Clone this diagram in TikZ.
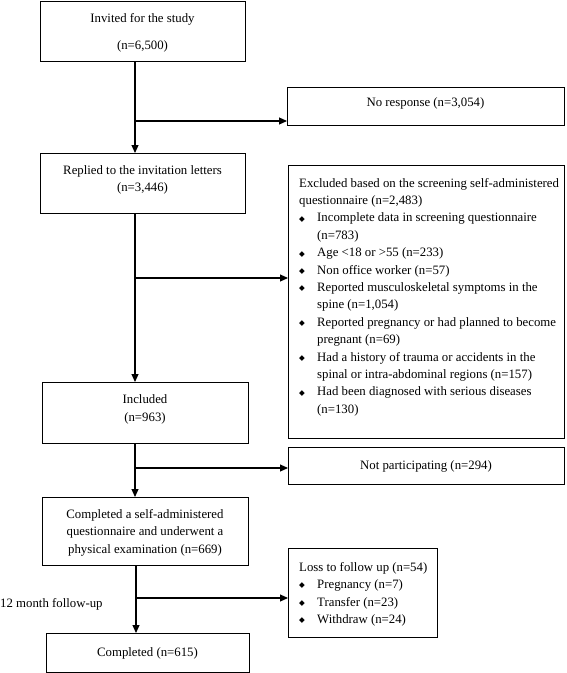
\documentclass[tikz,border=0pt]{standalone}
\usepackage{fontspec}
\setmainfont{Liberation Serif}
\newfontfamily\bulfont{DejaVu Sans}
\usetikzlibrary{arrows.meta,calc}
\tikzset{
  box/.style={draw, line width=1.3pt, inner sep=0pt, anchor=north west},
  conn/.style={line width=1.1pt},
  arr/.style={conn, -{Triangle[length=8pt,width=7pt]}},
  txt/.style={inner sep=0pt, anchor=base, font=\fontsize{12.8}{17.4}\selectfont},
}
\newcommand\bul{\makebox[18pt][l]{\raisebox{0.6pt}{\bulfont\fontsize{7.5}{7.5}\selectfont ◆}}}
\newcommand\ind{\hspace*{18pt}}
\begin{document}
\begin{tikzpicture}[x=1pt,y=-1pt]
\useasboundingbox (0,0) rectangle (566,673);

% boxes
\node[box, minimum width=205pt, minimum height=60pt] (b1) at (40,1) {};
\node[box, minimum width=277pt, minimum height=38pt] (nr) at (287,87) {};
\node[box, minimum width=205pt, minimum height=60pt] (b2) at (40,153) {};
\node[box, minimum width=276pt, minimum height=273pt] (excl) at (288,165) {};
\node[box, minimum width=206pt, minimum height=61pt] (inc) at (42,382) {};
\node[box, minimum width=276pt, minimum height=37pt] (np) at (288,447) {};
\node[box, minimum width=206pt, minimum height=68pt] (b4) at (42,497) {};
\node[box, minimum width=149pt, minimum height=89pt] (loss) at (288,548) {};
\node[box, minimum width=203pt, minimum height=39pt] (b5) at (46,633) {};

% texts
\node[txt] (t1a) at (142.5,22) {Invited for the study};
\node[txt] (t1b) at (142.5,49) {(n=6,500)};
\node[txt] (tnr) at (425.5,106) {No response (n=3,054)};
\node[txt] (t2a) at (142.5,174) {Replied to the invitation letters};
\node[txt] (t2b) at (142.5,191) {(n=3,446)};
\node[txt, anchor=base west] (texcl) at (299,187) {\parbox[t]{262pt}{%
Excluded based on the screening self-administered\\
questionnaire (n=2,483)\\
\bul Incomplete data in screening questionnaire\\
\ind (n=783)\\
\bul Age <18 or >55 (n=233)\\
\bul Non office worker (n=57)\\
\bul Reported musculoskeletal symptoms in the\\
\ind spine (n=1,054)\\
\bul Reported pregnancy or had planned to become\\
\ind pregnant (n=69)\\
\bul Had a history of trauma or accidents in the\\
\ind spinal or intra-abdominal regions (n=157)\\
\bul Had been diagnosed with serious diseases\\
\ind (n=130)}};
\node[txt] (tia) at (145,403) {Included};
\node[txt] (tib) at (145,421) {(n=963)};
\node[txt] (tnp) at (426,469) {Not participating (n=294)};
\node[txt] (t4a) at (145,518) {Completed a self-administered};
\node[txt] (t4b) at (145,535) {questionnaire and underwent a};
\node[txt] (t4c) at (145,553) {physical examination (n=669)};
\node[txt, anchor=base west, font=\fontsize{12.8}{17.5}\selectfont] (tloss) at (299,571) {\parbox[t]{140pt}{%
Loss to follow up (n=54)\\
\bul Pregnancy (n=7)\\
\bul Transfer (n=23)\\
\bul Withdraw (n=24)}};
\node[txt] (t5) at (147.5,656) {Completed (n=615)};
\node[txt, anchor=base west] (tfu) at (0,607) {12 month follow-up};

% connectors
\coordinate (j1) at (135,121);
\coordinate (j2) at (135,278);
\coordinate (j3) at (135,468);
\coordinate (j4) at (136,598);
\draw[arr] (j1 |- b1.south) -- (j1 |- b2.north);
\draw[arr] (j1) -- (j1 -| nr.west);
\draw[arr] (j2 |- b2.south) -- (j2 |- inc.north);
\draw[arr] (j2) -- (j2 -| excl.west);
\draw[arr] (j3 |- inc.south) -- (j3 |- b4.north);
\draw[arr] (j3) -- (j3 -| np.west);
\draw[arr] (j4 |- b4.south) -- (j4 |- b5.north);
\draw[arr] (j4) -- (j4 -| loss.west);
\end{tikzpicture}
\end{document}
